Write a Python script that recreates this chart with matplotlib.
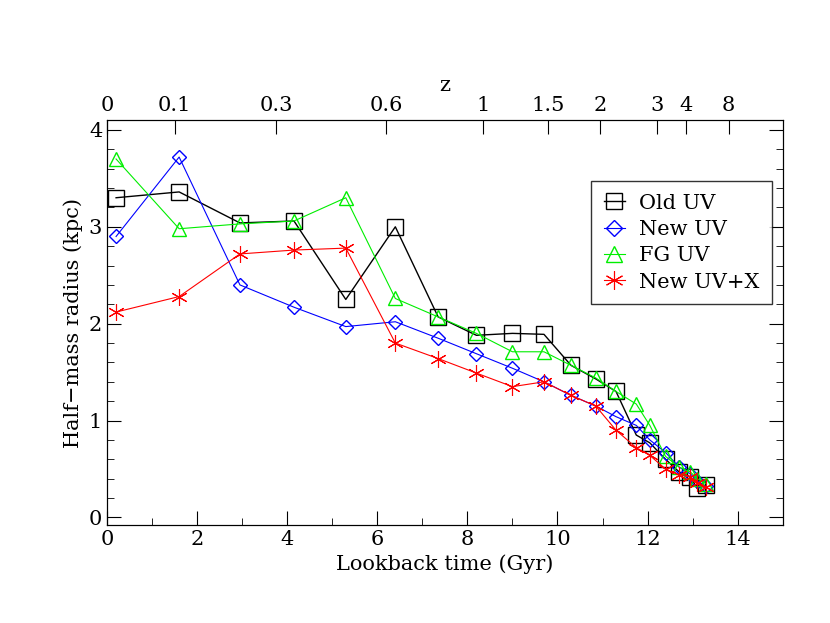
import matplotlib
matplotlib.use("Agg")
import matplotlib.pyplot as plt
from matplotlib.ticker import MultipleLocator

plt.rcParams['font.family'] = ['DejaVu Serif']

t = [0.2, 1.6, 2.95, 4.15, 5.3, 6.4, 7.35, 8.2, 9.0, 9.7, 10.3, 10.85, 11.3, 11.75,
     12.05, 12.4, 12.7, 12.95, 13.1, 13.3]
old_uv = [3.3, 3.36, 3.04, 3.06, 2.25, 3.0, 2.07, 1.88, 1.9, 1.89, 1.57, 1.43, 1.3, 0.85,
          0.77, 0.6, 0.47, 0.42, 0.3, 0.33]
new_uv = [2.9, 3.72, 2.4, 2.17, 1.97, 2.02, 1.85, 1.69, 1.54, 1.4, 1.26, 1.15, 1.04, 0.95,
          0.8, 0.67, 0.52, 0.45, 0.38, 0.32]
fg_uv = [3.7, 2.98, 3.03, 3.06, 3.3, 2.26, 2.07, 1.9, 1.71, 1.71, 1.57, 1.44, 1.3, 1.17,
         0.95, 0.63, 0.52, 0.47, 0.4, 0.35]
new_uvx = [2.12, 2.28, 2.72, 2.76, 2.78, 1.8, 1.64, 1.49, 1.35, 1.4, 1.26, 1.15, 0.9, 0.72,
           0.64, 0.5, 0.44, 0.42, 0.36, 0.31]

z_labels = ['0', '0.1', '0.3', '0.6', '1', '1.5', '2', '3', '4', '8']
z_pos = [0.0, 1.5, 3.75, 6.2, 8.35, 9.8, 10.95, 12.2, 12.85, 13.8]

fig = plt.figure(figsize=(8.3, 6.23), dpi=100)
ax = fig.add_axes([0.129, 0.157, 0.814, 0.65])

ax.plot(t, old_uv, color='black', lw=1, marker='s', ms=11, mfc='none', mec='black', label='Old UV')
ax.plot(t, new_uv, color='blue', lw=0.8, marker='D', ms=7, mfc='none', mec='blue', label='New UV')
ax.plot(t, fg_uv, color='#00ee00', lw=0.8, marker='^', ms=10, mfc='none', mec='#00ee00', label='FG UV')
ax.plot(t, new_uvx, color='red', lw=0.8, marker=(6, 2, 0), ms=12, mew=0.8, mec='red', label='New UV+X')

ax.set_xlim(0, 15)
ax.set_ylim(-0.08, 4.1)
ax.xaxis.set_major_locator(MultipleLocator(2))
ax.xaxis.set_minor_locator(MultipleLocator(1))
ax.yaxis.set_major_locator(MultipleLocator(1))
ax.yaxis.set_minor_locator(MultipleLocator(0.2))
ax.tick_params(which='both', direction='in', right=True, labelsize=15)
ax.tick_params(which='major', length=10)
ax.tick_params(which='minor', length=5)
ax.tick_params(axis='x', which='both', top=False)
ax.set_xlabel('Lookback time (Gyr)', fontsize=15)
ax.set_ylabel('Half\u2212mass radius (kpc)', fontsize=15)

top = ax.twiny()
top.set_xlim(0, 15)
top.set_xticks(z_pos)
top.set_xticklabels(z_labels)
top.tick_params(direction='in', length=10, labelsize=15)
top.set_xlabel('z', fontsize=15)

ax.legend(loc='upper right', bbox_to_anchor=(1.0, 0.875), fontsize=15, frameon=True,
          fancybox=False, edgecolor='black', handlelength=1.0, handletextpad=0.7,
          borderpad=0.6, labelspacing=0.35, markerscale=1.1)

fig.savefig('out.png')
